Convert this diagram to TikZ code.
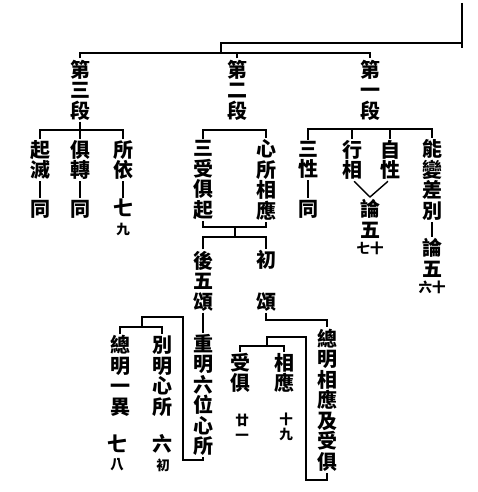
\documentclass[tikz,border=0pt]{standalone}
\usepackage{fontspec}
\usepackage{tikz}
\usepackage{xcolor}
\newfontfamily\cjk{Noto Sans CJK TC}
\usetikzlibrary{positioning}

\tikzset{
    col/.style={font=\cjk\bfseries\fontsize{20}{20.5}\selectfont, align=center, inner sep=0pt, outer sep=1.5pt},
    note/.style={font=\cjk\bfseries\fontsize{13.5}{15}\selectfont, align=center, inner sep=0pt},
    link/.style={line width=1.4pt},
    heavy/.style={line width=2.4pt}
}

\begin{document}
\begin{tikzpicture}[x=1pt, y=-1pt]
        \useasboundingbox (0,0) rectangle (477,492);

        \node[col] (s3) at (80,90) {第\\三\\段};
        \node[col] (s2) at (237,90) {第\\二\\段};
        \node[col] (s1) at (370,90) {第\\一\\段};

        \coordinate (root) at (462,3);
        \coordinate (fork) at (221,53);
        \draw[heavy] (root) -- (462,48);
        \draw[heavy] (462,43) -- (221,43) -- (fork);
        \draw[link] (s3.north) -- (s3.north |- fork) -- (s1.north |- fork) -- (s1.north);
        \draw[link] (s2.north) -- (s2.north |- fork);

        \node[col] (a1) at (40,160) {起\\滅};
        \node[col] (a1e) at (40,209) {同};
        \node[col] (a2) at (80,160) {俱\\轉};
        \node[col] (a2e) at (80,209) {同};
        \node[col] (a3) at (123,160) {所\\依};
        \node[col] (a3e) at (123,208) {七};
        \node[note] (a3n) at (123,229) {九};
        \draw[link] (a1.north) |- (a3.north |- 0,130) -- (a3.north);
        \draw[link] (s3.south) -- (s3.south |- 0,130);
        \draw[link] (a2.north) -- (a2.north |- 0,130);
        \draw[link] (a1) -- (a1e);
        \draw[link] (a2) -- (a2e);
        \draw[link] (a3) -- (a3e);

        \node[col] (b1) at (203,180) {三\\受\\俱\\起};
        \node[col] (b2) at (266,180) {心\\所\\相\\應};
        \draw[link] (b1.north) |- (b2.north |- 0,130) -- (b2.north);
        \coordinate (j2) at (235,227);
        \draw[link] (b1.south) |- (b2.south |- j2) -- (b2.south);
        \node[col] (b3) at (203,281) {後\\五\\頌};
        \node[col] (b4) at (203,395) {重\\明\\六\\位\\心\\所};
        \node[col] (b5) at (266,281) {初\\[21pt]頌};
        \draw[link] (b3.north) |- (b5.north |- 0,237) -- (b5.north);
        \draw[link] (j2) -- (j2 |- 0,237);
        \draw[link] (b3) -- (b4);
        \node[col] (b6) at (327,400) {總\\明\\相\\應\\及\\受\\俱};
        \draw[link] (b5.south) |- (b6.north |- 0,320) -- (b6.north);

        \node[col] (b7) at (240,373) {受\\俱};
        \node[col] (b8) at (284,373) {相\\應};
        \node[note] (b7n) at (242,427) {廿\\一};
        \node[note] (b8n) at (286,427) {十\\九};
        \coordinate (j6) at (267,346);
        \draw[link] (b7.north) |- (b8.north |- j6) -- (b8.north);
        \draw[link] (j6) |- (306,337) |- (b6.south |- 0,480) -- (b6.south);

        \node[col] (c1) at (120,376) {總\\明\\一\\異};
        \node[col] (c2) at (162,376) {別\\明\\心\\所};
        \node[col] (c1e) at (117,444) {七};
        \node[note] (c1n) at (117,465) {八};
        \node[col] (c2e) at (162,444) {六};
        \node[note] (c2n) at (163,465) {初};
        \coordinate (j4) at (142,327);
        \draw[link] (c1.north) |- (c2.north |- j4) -- (c2.north);
        \draw[link] (j4) |- (183,317) |- (b4.south |- 0,460) -- (b4.south);

        \node[col] (d1) at (308,160) {三\\性};
        \node[col] (d1e) at (308,209) {同};
        \node[col] (d2) at (352,160) {行\\相};
        \node[col] (d3) at (390,160) {自\\性};
        \node[col] (d4) at (370,219) {論\\五};
        \node[note] (d4n) at (370,248) {七十};
        \node[col] (d5) at (432,180) {能\\變\\差\\別};
        \node[col] (d5e) at (432,258) {論\\五};
        \node[note] (d5n) at (432,287) {六十};
        \draw[link] (d1.north) |- (d5.north |- 0,129) -- (d5.north);
        \draw[link] (d2.north) -- (d2.north |- 0,129);
        \draw[link] (d3.north) -- (d3.north |- 0,129);
        \draw[link] (d1) -- (d1e);
        \draw[link] (d5) -- (d5e);
        \coordinate (v) at (370,197);
        \draw[link] ([xshift=2pt]d2.south) -- (v) -- ([xshift=-2pt]d3.south);
    \end{tikzpicture}
\end{document}
